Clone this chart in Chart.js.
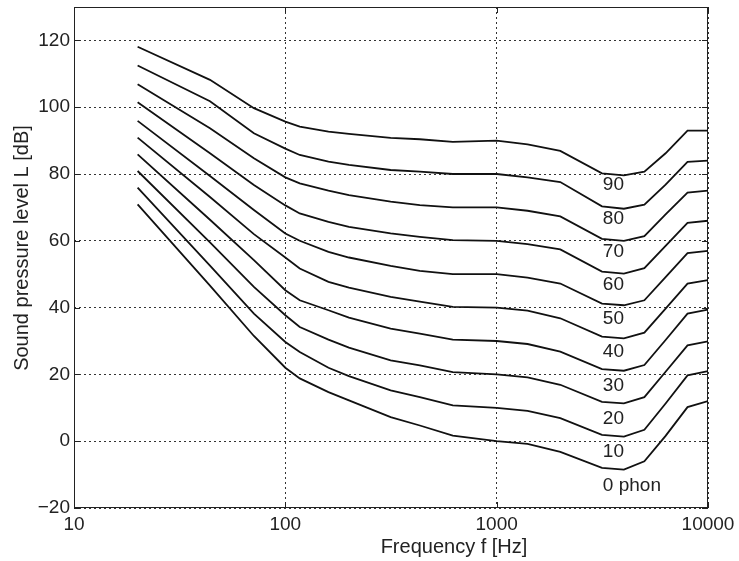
<!DOCTYPE html>
<html>
<head>
<meta charset="utf-8">
<style>
  body { margin: 0; background: #fff; }
  #wrap { width: 739px; height: 561px; }
</style>
</head>
<body>
<div id="wrap"><canvas id="myChart" width="739" height="561"></canvas></div>

<script src="https://cdn.jsdelivr.net/npm/chart.js"></script>
<script>
const freq = [20, 44, 71, 100, 117, 160, 200, 315, 433, 620, 1000, 1400, 2000, 3150, 4000, 5000, 6300, 8000, 10000];

// loudness level of each curve
const phon = [0, 10, 20, 30, 40, 50, 60, 70, 80, 90];

// sound pressure level [dB] per curve
const spl0  = [70.9, 46.6, 31.5, 22.0, 18.8, 14.7, 12.2,  7.2,  4.7,  1.7,  0.0, -0.8, -3.2, -8.0, -8.5, -6.0,  1.6, 10.2, 12.0];
const spl10 = [75.9, 52.6, 38.2, 29.7, 26.7, 22.0, 19.5, 15.2, 13.2, 10.7, 10.0,  9.1,  6.9,  1.9,  1.4,  3.4, 11.3, 19.7, 21.0];
const spl20 = [80.9, 59.5, 46.2, 37.7, 34.2, 30.4, 28.0, 24.2, 22.7, 20.7, 20.0, 19.1, 16.9, 11.8, 11.3, 13.2, 20.8, 28.7, 29.9];
const spl30 = [85.9, 66.3, 54.2, 45.2, 42.2, 39.2, 37.0, 33.7, 32.2, 30.4, 30.0, 29.1, 26.8, 21.6, 21.1, 22.8, 30.3, 38.2, 39.4];
const spl40 = [90.9, 73.1, 62.0, 55.0, 51.7, 47.7, 46.0, 43.2, 41.8, 40.2, 40.0, 39.1, 36.8, 31.3, 30.8, 32.5, 39.7, 47.2, 48.2];
const spl50 = [95.9, 79.4, 69.2, 62.2, 60.0, 56.7, 55.0, 52.5, 51.0, 50.0, 50.0, 49.0, 47.2, 41.2, 40.7, 42.2, 49.1, 56.3, 57.0];
const spl60 = [101.5, 86.2, 76.7, 70.6, 68.2, 65.7, 64.2, 62.2, 61.2, 60.2, 60.0, 59.0, 57.4, 50.8, 50.2, 51.8, 58.5, 65.4, 66.0];
const spl70 = [106.9, 93.7, 84.7, 79.0, 77.2, 75.0, 73.7, 71.7, 70.7, 70.0, 70.0, 69.0, 67.3, 60.6, 60.0, 61.4, 67.9, 74.4, 75.0];
const spl80 = [112.5, 101.8, 92.2, 87.6, 85.7, 83.7, 82.7, 81.2, 80.7, 80.0, 80.0, 79.0, 77.6, 70.3, 69.6, 70.8, 76.8, 83.6, 84.0];
const spl90 = [118.1, 108.2, 99.7, 95.7, 94.2, 92.7, 92.0, 90.8, 90.4, 89.6, 90.0, 88.9, 86.9, 80.2, 79.6, 80.7, 86.2, 93.0, 93.0];

const curves = [spl0, spl10, spl20, spl30, spl40, spl50, spl60, spl70, spl80, spl90];

const xTicks = [10, 100, 1000, 10000];
const yTicks = [-20, 0, 20, 40, 60, 80, 100, 120];

const FONT = '"Liberation Sans", Arial, Helvetica, sans-serif';

// box, inner tick marks, axis titles, curve labels
const matlabLook = {
    id: 'matlabLook',
    beforeDatasetsDraw(chart) {
        const { ctx, chartArea: a, scales } = chart;
        ctx.save();
        ctx.strokeStyle = '#222';
        ctx.lineWidth = 1;
        ctx.strokeRect(a.left + 0.5, a.top + 0.5, a.right - a.left - 1, a.bottom - a.top - 1);
        ctx.beginPath();
        xTicks.forEach(v => {
            const px = Math.round(scales.x.getPixelForValue(v)) + 0.5;
            ctx.moveTo(px, a.bottom); ctx.lineTo(px, a.bottom - 6);
            ctx.moveTo(px, a.top); ctx.lineTo(px, a.top + 6);
        });
        yTicks.forEach(v => {
            const py = Math.round(scales.y.getPixelForValue(v)) + 0.5;
            ctx.moveTo(a.left, py); ctx.lineTo(a.left + 6, py);
            ctx.moveTo(a.right, py); ctx.lineTo(a.right - 6, py);
        });
        ctx.stroke();
        ctx.restore();
    },
    afterDatasetsDraw(chart) {
        const { ctx, scales } = chart;
        ctx.save();
        ctx.fillStyle = '#222';
        ctx.font = '19px ' + FONT;
        ctx.textAlign = 'left';
        ctx.textBaseline = 'middle';
        phon.forEach(p => {
            const px = scales.x.getPixelForValue(3180);
            const py = scales.y.getPixelForValue(p - 13.3);
            ctx.fillText(p === 0 ? '0 phon' : String(p), px, py);
        });
        // axis titles
        ctx.font = '20px ' + FONT;
        ctx.textAlign = 'center';
        ctx.fillText('Frequency f [Hz]', 454, 547);
        ctx.translate(22, 248);
        ctx.rotate(-Math.PI / 2);
        ctx.fillText('Sound pressure level L [dB]', 0, 0);
        ctx.restore();
    }
};

const ctx = document.getElementById('myChart');

new Chart(ctx, {
    type: 'line',
    data: {
        datasets: curves.map((c, i) => ({
            label: phon[i] + ' phon',
            data: freq.map((f, j) => ({ x: f, y: c[j] })),
            borderColor: '#111',
            borderWidth: 1.8,
            pointRadius: 0,
            tension: 0,
            fill: false
        }))
    },
    options: {
        responsive: false,
        animation: false,
        layout: { padding: { top: 7, right: 31, left: 0, bottom: 0 } },
        plugins: {
            legend: { display: false },
            tooltip: { enabled: false }
        },
        scales: {
            x: {
                type: 'logarithmic',
                min: 10,
                max: 10000,
                afterBuildTicks: s => { s.ticks = xTicks.map(v => ({ value: v })); },
                afterFit: s => { s.height = 53; s.paddingLeft = 0; s.paddingRight = 0; },
                ticks: {
                    autoSkip: false,
                    maxRotation: 0,
                    padding: 5,
                    color: '#222',
                    font: { family: FONT, size: 19 },
                    callback: v => String(v)
                },
                grid: { color: '#333', lineWidth: 1, drawTicks: false },
                border: { display: false, dash: [2, 3] }
            },
            y: {
                min: -20,
                max: 130,
                afterBuildTicks: s => { s.ticks = yTicks.map(v => ({ value: v })); },
                afterFit: s => { s.width = 74; s.paddingTop = 0; s.paddingBottom = 0; },
                ticks: {
                    padding: 4,
                    color: '#222',
                    font: { family: FONT, size: 19 },
                    callback: v => v < 0 ? '\u2212' + Math.abs(v) : String(v)
                },
                grid: { color: '#333', lineWidth: 1, drawTicks: false },
                border: { display: false, dash: [2, 3] }
            }
        }
    },
    plugins: [matlabLook]
});
</script>
</body>
</html>
